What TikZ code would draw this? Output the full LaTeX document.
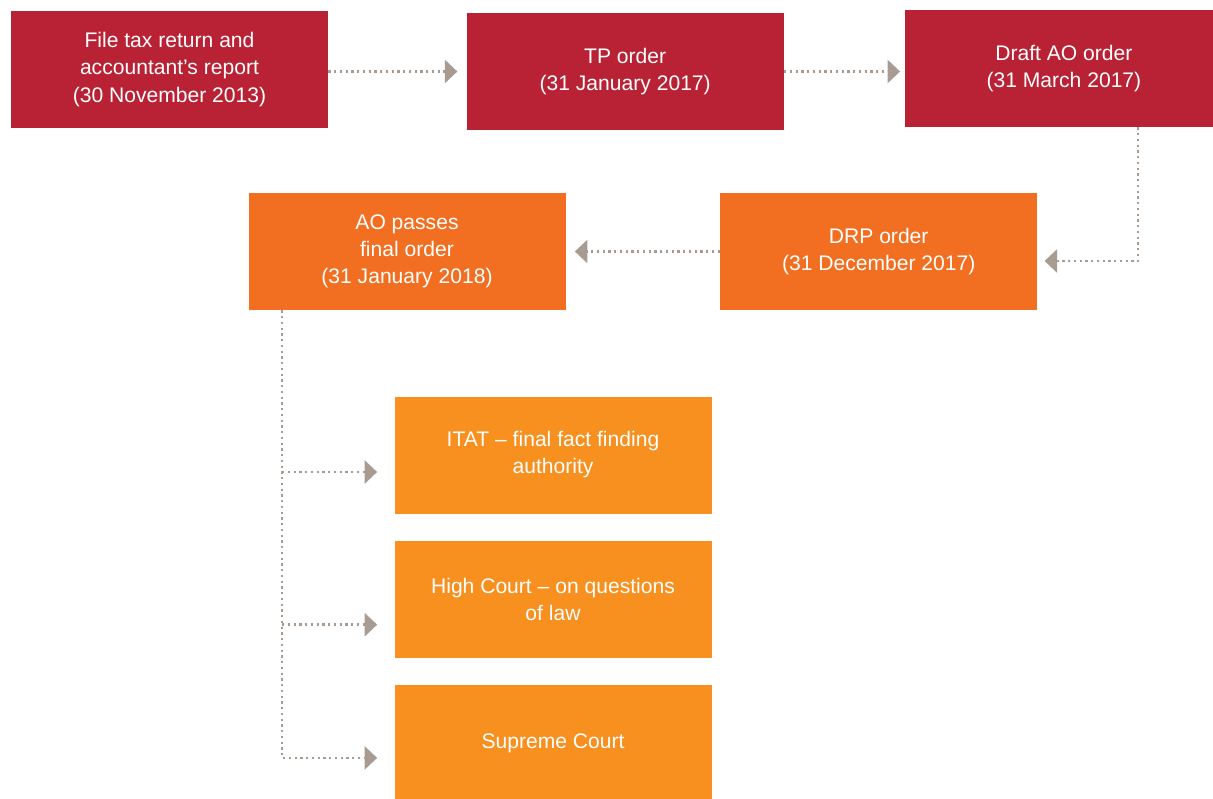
\documentclass[tikz,border=0pt]{standalone}
\usepackage{fontspec}
\setmainfont{Liberation Sans}
\usetikzlibrary{positioning,arrows.meta}

\definecolor{stageRed}{RGB}{185,33,52}
\definecolor{stageOrange}{RGB}{242,111,33}
\definecolor{stageAmber}{RGB}{247,144,30}
\definecolor{flowGray}{RGB}{168,155,145}

\tikzset{
	stagebox/.style={rectangle, minimum width=6.34cm, minimum height=2.34cm, inner sep=0pt,
		text=white, align=center, font=\fontsize{12}{15.4}\selectfont},
	flow/.style={draw=flowGray, line width=0.05cm, dash pattern=on 0.045cm off 0.07cm,
		-{Triangle[length=0.25cm, width=0.46cm]}, flowGray},
}

\begin{document}
\begin{tikzpicture}
	\useasboundingbox (0,0) rectangle (24.26,-15.96);
	\node [stagebox, fill=stageRed] (F) at (3.39,-1.39) {File tax return and\\accountant’s report\\(30 November 2013)};
	\node [stagebox, fill=stageRed, right=2.76cm of F, yshift=-0.04cm] (TP) {TP order\\(31 January 2017)};
	\node [stagebox, fill=stageRed, right=2.42cm of TP, yshift=0.06cm] (D) {Draft AO order\\(31 March 2017)};
	\node [stagebox, fill=stageOrange] (AO) at (8.14,-5.03) {AO passes\\final order\\(31 January 2018)};
	\node [stagebox, fill=stageOrange, right=3.08cm of AO] (DRP) {DRP order\\(31 December 2017)};
	\node [stagebox, fill=stageAmber] (IT) at (11.06,-9.10) {ITAT – final fact finding\\authority};
	\node [stagebox, fill=stageAmber, below=0.54cm of IT] (HC) {High Court – on questions\\of law};
	\node [stagebox, fill=stageAmber, below=0.52cm of HC] (SC) {Supreme Court};
	% connectors
	\coordinate (spine) at ([xshift=0.68cm]AO.south west);
	\coordinate (itIn) at ([yshift=-0.34cm]IT.west);
	\coordinate (hcIn) at ([yshift=-0.5cm]HC.west);
	\coordinate (scIn) at ([yshift=-0.29cm]SC.west);
	\draw [flow, shorten >=0.18cm] (F.east |- TP.west) to (TP.west);
	\draw [flow, shorten >=0.1cm] (TP.east) to (TP.east -| D.west);
	\draw [flow, shorten >=0.14cm] ([xshift=1.48cm]D.south) |- ([yshift=-0.19cm]DRP.east);
	\draw [flow, shorten >=0.18cm] (DRP.west) to (AO.east);
	\draw [flow, shorten >=0.34cm] (spine) |- (scIn);
	\draw [flow, shorten >=0.34cm] (spine |- itIn) to (itIn);
	\draw [flow, shorten >=0.34cm] (spine |- hcIn) to (hcIn);
\end{tikzpicture}
\end{document}
